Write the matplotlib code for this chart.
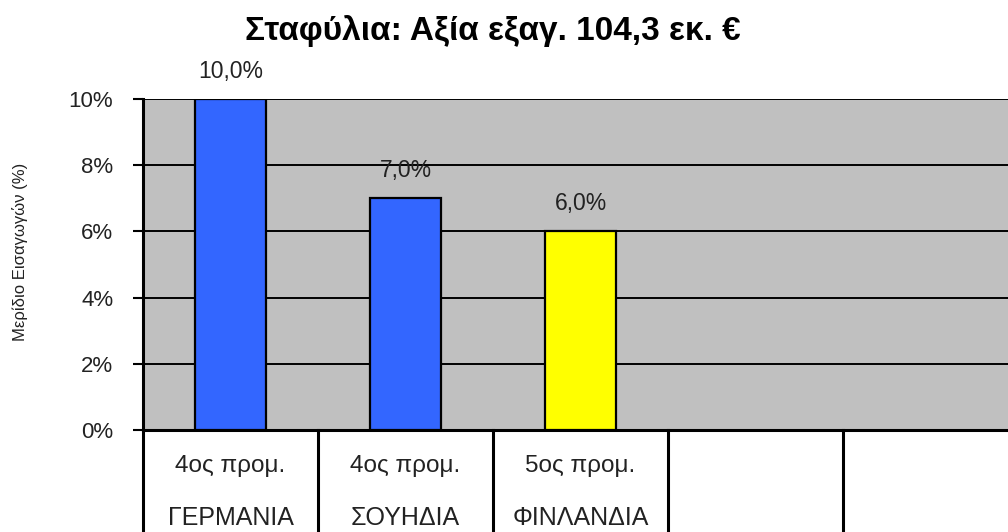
import matplotlib.pyplot as plt
import matplotlib.transforms as mtransforms

# Δεδομένα
ranks = ['4ος προμ.', '4ος προμ.', '5ος προμ.', '', '']
countries = ['ΓΕΡΜΑΝΙΑ', 'ΣΟΥΗΔΙΑ', 'ΦΙΝΛΑΝΔΙΑ', '', '']
shares = [10.0, 7.0, 6.0]
bar_colors = ['#3366FF', '#3366FF', '#FFFF00']
yticks = [0, 2, 4, 6, 8, 10]

plt.rcParams['font.family'] = ['Liberation Sans', 'DejaVu Sans']

fig = plt.figure(figsize=(10.08, 5.32), dpi=100)
ax = fig.add_axes([143 / 1008, 102 / 532, 875 / 1008, 331 / 532])
ax.set_facecolor('#C0C0C0')

x = list(range(len(shares)))
ax.bar(x, shares, width=0.41, color=bar_colors, edgecolor='black', linewidth=1.6, zorder=3)

# Ετικέτες τιμών
for xi, v in zip(x, shares):
    ax.annotate(f'{v:.1f}%'.replace('.', ','), (xi, v), xytext=(0, 20), textcoords='offset points',
                ha='center', va='center', fontsize=16.5, color='#222222')

ax.set_xlim(-0.5, len(countries) - 0.5)
ax.set_ylim(0, 10)
ax.set_yticks(yticks)
ax.set_yticklabels([f'{t}%' for t in yticks], fontsize=16, color='#222222')
ax.set_xticks([])
ax.grid(axis='y', color='black', linewidth=1.4, zorder=1)
ax.set_axisbelow(True)
ax.tick_params(axis='y', direction='out', length=7.5, width=1.5, pad=14)

for s in ['top', 'right']:
    ax.spines[s].set_visible(False)
ax.spines['left'].set_linewidth(2.2)
ax.spines['bottom'].set_linewidth(2.2)

# Πίνακας κατηγοριών κάτω από τον άξονα
trans = mtransforms.blended_transform_factory(ax.transData, ax.transAxes)
for b in range(len(countries)):
    ax.plot([b - 0.5, b - 0.5], [0, -0.4], transform=trans, color='black', lw=2.2, clip_on=False)
for i, (r, c) in enumerate(zip(ranks, countries)):
    ax.text(i, -0.109, r, transform=trans, ha='center', va='center', fontsize=17.5, color='#222222')
    ax.text(i, -0.266, c, transform=trans, ha='center', va='center', fontsize=18, color='#222222')

fig.text(20 / 1008, 1 - 252 / 532, 'Μερίδιο Εισαγωγών (%)', rotation=90, ha='center', va='center',
         fontsize=12, color='#222222')
fig.text(493 / 1008, 1 - 31 / 532, 'Σταφύλια: Αξία εξαγ. 104,3 εκ. €', ha='center', va='center',
         fontsize=24, fontweight='bold')

fig.savefig('out.png', dpi=100)
